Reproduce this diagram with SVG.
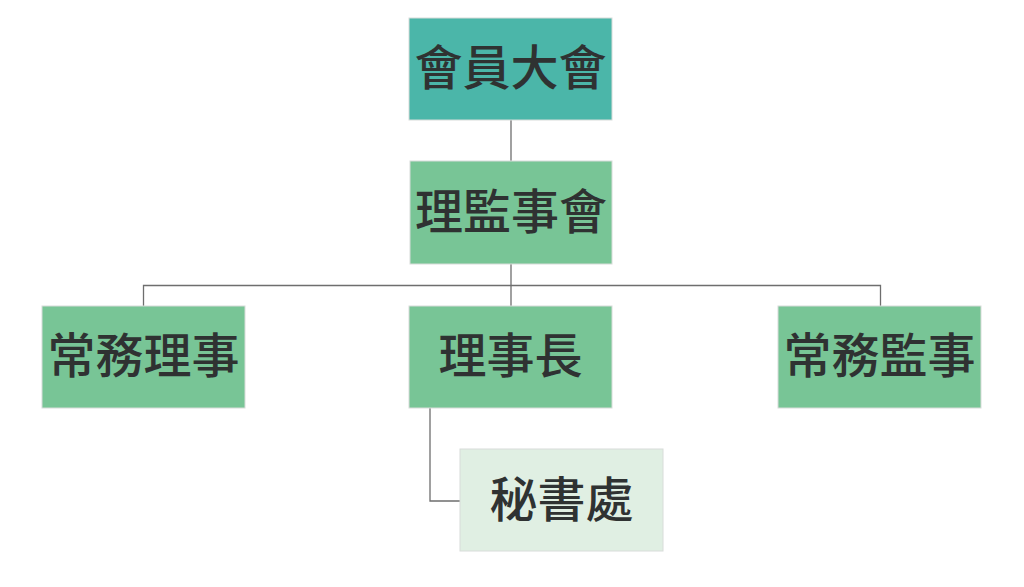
<svg xmlns="http://www.w3.org/2000/svg" width="1024" height="587" viewBox="0 0 1024 587">
<style>
.box{stroke:#d8dcd9;stroke-width:1}
.t{font-family:"Noto Sans CJK TC","Noto Sans CJK SC",sans-serif;font-weight:500;font-size:48px;fill:#2f3232;text-anchor:middle;dominant-baseline:central}
.c{fill:none;stroke:#6e6e6e;stroke-width:1.3}
</style>
<rect width="1024" height="587" fill="#ffffff"/>
<g id="connectors">
<path class="c" d="M511 120V161"/>
<path class="c" d="M511 264V306"/>
<path class="c" d="M143.5 306V285.5H880.5V306"/>
<path class="c" d="M430 408V501H460"/>
</g>
<g id="n1"><rect class="box" x="409" y="18" width="203" height="102" fill="#4bb6a9"/><text class="t" x="510.5" y="64">會員大會</text></g>
<g id="n2"><rect class="box" x="410" y="161" width="202" height="103" fill="#78c596"/><text class="t" x="511" y="208">理監事會</text></g>
<g id="n3"><rect class="box" x="42" y="306" width="203" height="102" fill="#78c596"/><text class="t" x="143.5" y="352">常務理事</text></g>
<g id="n4"><rect class="box" x="409" y="306" width="203" height="102" fill="#78c596"/><text class="t" x="510.5" y="352">理事長</text></g>
<g id="n5"><rect class="box" x="778" y="306" width="203" height="102" fill="#78c596"/><text class="t" x="879.5" y="352">常務監事</text></g>
<g id="n6"><rect class="box" x="460" y="449" width="203" height="102" fill="#e0efe3"/><text class="t" x="561.5" y="496">秘書處</text></g>
</svg>
